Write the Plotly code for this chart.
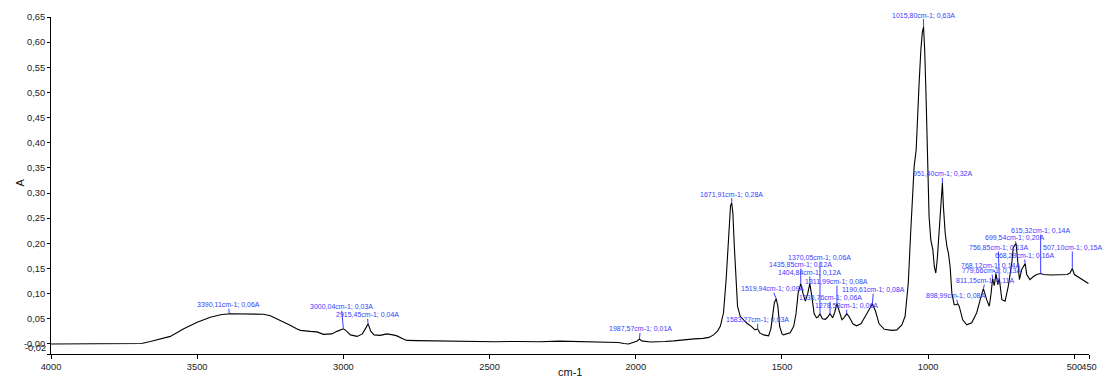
import plotly.graph_objects as go

# Baseline / band-shape points of the IR absorbance spectrum (cm-1, A)
wavenumber = [
    4000, 3900, 3800, 3740, 3690, 3660, 3630, 3592, 3546, 3500, 3455, 3420,
    3318, 3273, 3250, 3227, 3200, 3182, 3160, 3147, 3113, 3090, 3068, 3040,
    3022, 3010, 2990, 2976, 2953, 2935, 2925, 2906, 2895, 2874, 2851, 2830,
    2817, 2795, 2783, 2748, 2700, 2635, 2550, 2480, 2400, 2330, 2260, 2210,
    2180, 2150, 2100, 2060, 2040, 2025, 2010, 1995, 1980, 1950, 1930, 1900,
    1870, 1840, 1800, 1770, 1750, 1734, 1720, 1711, 1700, 1691, 1685, 1680,
    1676, 1668, 1663, 1657, 1652, 1643, 1630, 1620, 1605, 1592, 1576, 1563,
    1546, 1538, 1532, 1526, 1514, 1508, 1500, 1495, 1472, 1460, 1452, 1445,
    1428, 1420, 1412, 1398, 1390, 1382, 1376, 1362, 1352, 1344, 1327, 1320,
    1303, 1295, 1287, 1270, 1258, 1245, 1230, 1215, 1200, 1180, 1168, 1150,
    1125, 1107, 1090, 1079, 1068, 1060, 1054, 1048, 1041, 1037, 1031, 1025,
    1020, 1012, 1007, 1001, 997, 991, 984, 979, 974, 969, 962, 957,
    948, 942, 936, 931, 925, 919, 911, 904, 894, 882, 868, 851,
    834, 822, 800, 791, 785, 774, 762, 748, 737, 726, 714, 709,
    693, 688, 680, 663, 652, 640, 629, 606, 580, 550, 525, 515,
    500, 490, 480, 465, 452,
]
absorbance = [
    0.0, 0.0, 0.0005, 0.0, 0.001, 0.005, 0.009, 0.015, 0.030, 0.043, 0.053, 0.058,
    0.060, 0.059, 0.056, 0.050, 0.043, 0.037, 0.030, 0.027, 0.025, 0.024, 0.019, 0.020,
    0.025, 0.028, 0.026, 0.018, 0.015, 0.020, 0.030, 0.025, 0.018, 0.017, 0.020, 0.018,
    0.016, 0.010, 0.007, 0.0065, 0.006, 0.005, 0.005, 0.0045, 0.005, 0.0045, 0.0055, 0.005,
    0.004, 0.005, 0.0045, 0.003, 0.001, 0.0, 0.003, 0.006, 0.006, 0.004, 0.005, 0.005,
    0.006, 0.008, 0.010, 0.011, 0.013, 0.018, 0.026, 0.035, 0.062, 0.128, 0.194, 0.255,
    0.275, 0.260, 0.194, 0.128, 0.075, 0.055, 0.046, 0.041, 0.035, 0.028, 0.022, 0.018,
    0.016, 0.030, 0.055, 0.082, 0.075, 0.035, 0.020, 0.018, 0.022, 0.035, 0.060, 0.100,
    0.100, 0.085, 0.100, 0.095, 0.060, 0.052, 0.054, 0.050, 0.049, 0.053, 0.052, 0.062,
    0.063, 0.048, 0.053, 0.054, 0.040, 0.036, 0.040, 0.055, 0.072, 0.065, 0.040, 0.029,
    0.027, 0.028, 0.038, 0.055, 0.121, 0.220, 0.287, 0.353, 0.386, 0.452, 0.519, 0.585,
    0.620, 0.585, 0.486, 0.353, 0.254, 0.207, 0.187, 0.154, 0.141, 0.168, 0.221, 0.274,
    0.274, 0.221, 0.194, 0.181, 0.154, 0.101, 0.078, 0.078, 0.075, 0.048, 0.038, 0.042,
    0.062, 0.088, 0.088, 0.075, 0.100, 0.116, 0.118, 0.088, 0.085, 0.115, 0.161, 0.192,
    0.160, 0.128, 0.148, 0.138, 0.128, 0.134, 0.138, 0.138, 0.137, 0.138, 0.138, 0.141,
    0.138, 0.134, 0.131, 0.125, 0.120,
]

# Picked peaks (cm-1, A)
peak_wn = [
    3390.11, 3000.04, 2915.45, 1987.57, 1671.91, 1583.27, 1519.94, 1435.85,
    1404.84, 1370.05, 1335.76, 1311.99, 1278.58, 1190.61, 1015.80, 951.40,
    898.99, 811.15, 779.66, 768.12, 756.85, 699.54, 668.28, 615.32, 507.10,
]
peak_abs = [
    0.06, 0.03, 0.04, 0.01, 0.28, 0.03, 0.09, 0.12,
    0.12, 0.06, 0.06, 0.08, 0.06, 0.08, 0.63, 0.32,
    0.08, 0.11, 0.13, 0.14, 0.13, 0.20, 0.16, 0.14, 0.15,
]

# Axis ticks
y_tickvals = [0.65, 0.60, 0.55, 0.50, 0.45, 0.40, 0.35, 0.30, 0.25, 0.20,
              0.15, 0.10, 0.05, 0.0, -0.02]
y_ticktext = ["0,65", "0,60", "0,55", "0,50", "0,45", "0,40", "0,35", "0,30",
              "0,25", "0,20", "0,15", "0,10", "0,05", "-0,00", ""]
x_tickvals = [4000, 3500, 3000, 2500, 2000, 1500, 1000, 500, 450]
x_ticktext = ["4000", "3500", "3000", "2500", "2000", "1500", "1000", "500", "450"]

# Pixel offset of each peak label from its peak
label_dx = [-1, -2, -1, 1, 0, 0, -4, 0, 0, 0, 0, 0, 0, 1, 0, 0,
            -2, 2, -1, -5, -1, -2, -1, 0, 0]
label_dy = [-9, -22, -9, -10, -9, -9, -10, -19, -11, -56, -16, -22, -8, -14,
            -12, -9, -8, -8, -8, -8, -31, -6, -8, -43, -21]

pts = sorted(zip(wavenumber + peak_wn, absorbance + peak_abs), key=lambda p: -p[0])
xs = [p[0] for p in pts]
ys = [p[1] for p in pts]

FONT = "Liberation Sans, Arial, sans-serif"
LABEL_BLUE = "#3c3cff"

fig = go.Figure()
fig.add_trace(go.Scatter(x=xs, y=ys, mode="lines",
                         line=dict(color="black", width=1.1),
                         hoverinfo="skip", showlegend=False))


def fmt(v):
    return f"{v:.2f}".replace(".", ",")


annotations = []
for wn, a, dx, dy in zip(peak_wn, peak_abs, label_dx, label_dy):
    annotations.append(dict(
        x=wn, y=a, xref="x", yref="y",
        text=f"{fmt(wn)}cm-1; {fmt(a)}A",
        showarrow=True, arrowhead=0, arrowwidth=1, arrowcolor=LABEL_BLUE,
        ax=dx, ay=dy, standoff=0, borderpad=0,
        font=dict(family=FONT, size=7, color=LABEL_BLUE),
    ))

# axis titles and the shifted bottom y tick label
annotations.append(dict(x=0.5, y=0, xref="paper", yref="paper", text="cm-1",
                        showarrow=False, yanchor="top", yshift=-10,
                        font=dict(family=FONT, size=11, color="#111")))
annotations.append(dict(x=0, y=0.5, xref="paper", yref="paper", text="A",
                        showarrow=False, textangle=-90, xanchor="center",
                        xshift=-32, yshift=3,
                        font=dict(family=FONT, size=11, color="#111")))
annotations.append(dict(x=0, y=-0.02, xref="paper", yref="y", text="-0,02",
                        showarrow=False, xanchor="right", xshift=-3, yshift=6,
                        font=dict(family=FONT, size=9.3, color="#222")))

fig.update_layout(
    width=1105, height=378,
    margin=dict(l=51, r=16, t=17, b=24),
    paper_bgcolor="white", plot_bgcolor="white",
    font=dict(family=FONT, size=9.3, color="#222"),
    annotations=annotations,
    showlegend=False,
)
fig.update_xaxes(
    range=[4000, 450], tickmode="array", tickvals=x_tickvals, ticktext=x_ticktext,
    tickangle=0, ticks="outside", ticklen=4, tickwidth=1, tickcolor="black",
    showline=True, linecolor="black", linewidth=1, showgrid=False, zeroline=False,
    automargin=False, tickfont=dict(family=FONT, size=9.3, color="#222"),
)
fig.update_yaxes(
    range=[-0.02, 0.65], tickmode="array", tickvals=y_tickvals, ticktext=y_ticktext,
    ticks="outside", ticklen=3, tickwidth=1, tickcolor="black",
    showline=True, linecolor="black", linewidth=1, showgrid=False, zeroline=False,
    automargin=False, tickfont=dict(family=FONT, size=9.3, color="#222"),
)

fig.write_html("out.html")
